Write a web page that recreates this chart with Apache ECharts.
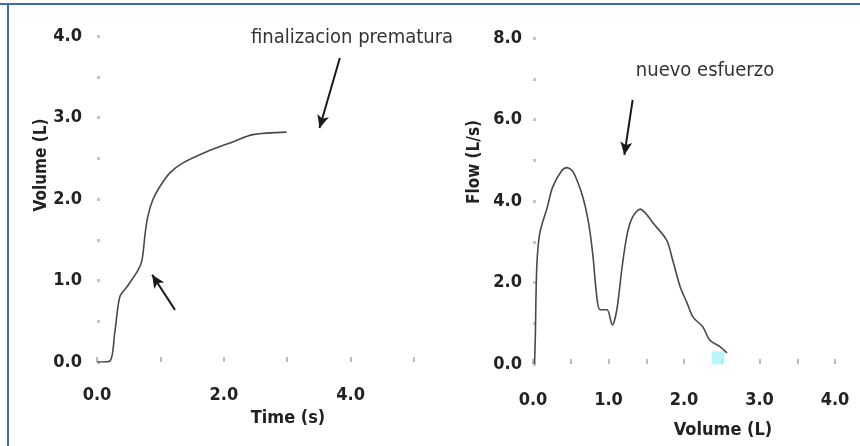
<!DOCTYPE html>
<html>
<head>
<meta charset="utf-8">
<script src="https://cdn.jsdelivr.net/npm/echarts@6/dist/echarts.min.js"></script>
<style>
  html, body { margin: 0; padding: 0; background: #fff; }
  #chart { width: 860px; height: 446px; }
</style>
</head>
<body>
<div id="chart"></div>
<script>
// volume-time curve (left)
var timeS = [0, 0.2, 0.28, 0.36, 0.47, 0.65, 0.71, 0.76, 0.80, 0.88, 0.99, 1.15, 1.35, 1.73, 2.14, 2.46, 2.99];
var volumeL = [0, 0.01, 0.36, 0.80, 0.92, 1.13, 1.25, 1.58, 1.78, 1.99, 2.15, 2.32, 2.44, 2.58, 2.70, 2.79, 2.82];

// flow-volume curve (right)
var loopVolume = [0.02, 0.03, 0.05, 0.09, 0.19, 0.26, 0.38, 0.45, 0.52, 0.58, 0.66, 0.73, 0.79, 0.85, 0.89, 0.98, 1.05, 1.11, 1.18, 1.25, 1.32, 1.42, 1.51, 1.59, 1.77, 1.85, 1.95, 2.04, 2.12, 2.25, 2.34, 2.48, 2.57];
var loopFlow = [0, 0.6, 2.38, 3.21, 3.85, 4.34, 4.74, 4.82, 4.74, 4.52, 4.10, 3.53, 2.72, 1.57, 1.33, 1.33, 0.96, 1.33, 2.38, 3.21, 3.61, 3.80, 3.66, 3.46, 3.04, 2.55, 1.89, 1.50, 1.15, 0.91, 0.59, 0.42, 0.27];

// annotation arrows [from, to] in data units
var arrowEnd = [[3.83, 3.73], [3.51, 2.87]];
var arrowDip = [[1.23, 0.64], [0.87, 1.07]];
var arrowNew = [[1.32, 6.48], [1.21, 5.13]];
var scanMark = [[2.45, 0.15]];

var font = '"Liberation Sans Narrow", "DejaVu Sans Condensed", sans-serif';

function pairs(xs, ys) {
    return xs.map(function (x, i) { return [x, ys[i]]; });
}

var chart = echarts.init(document.getElementById('chart'));

var tickLabel = {
    color: '#222',
    fontFamily: font,
    fontWeight: 'bold',
    fontSize: 18
};

function arrowLine(seg) {
    return {
        silent: true,
        symbol: ['none', 'arrow'],
        symbolSize: [9, 13],
        lineStyle: { color: '#1a1a1a', width: 2, type: 'solid' },
        label: { show: false },
        data: [[{ coord: seg[0] }, { coord: seg[1] }]]
    };
}

var option = {
    animation: false,
    backgroundColor: '#fff',
    grid: [
        { left: 97, top: 36, width: 317, height: 326 },
        { left: 533, top: 38, width: 302, height: 326 }
    ],
    xAxis: [
        {
            gridIndex: 0, type: 'value', min: 0, max: 5, interval: 1,
            axisLine: { show: false },
            axisTick: { show: true, inside: true, length: 5, lineStyle: { color: '#b4bcc6', width: 2 } },
            splitLine: { show: false },
            axisLabel: Object.assign({ margin: 24, formatter: function (v) { return v % 2 === 0 ? v.toFixed(1) : ''; } }, tickLabel)
        },
        {
            gridIndex: 1, type: 'value', min: 0, max: 4, interval: 0.5,
            axisLine: { show: false },
            axisTick: { show: true, inside: true, length: 5, lineStyle: { color: '#b4bcc6', width: 2 } },
            splitLine: { show: false },
            axisLabel: Object.assign({ margin: 27, formatter: function (v) { return v % 1 === 0 ? v.toFixed(1) : ''; } }, tickLabel)
        }
    ],
    yAxis: [
        {
            gridIndex: 0, type: 'value', min: 0, max: 4, interval: 0.5,
            axisLine: { show: false },
            axisTick: { show: true, inside: true, length: 3, lineStyle: { color: '#c0c6ce', width: 3 } },
            splitLine: { show: false },
            axisLabel: Object.assign({ margin: 15, formatter: function (v) { return v % 1 === 0 ? v.toFixed(1) : ''; } }, tickLabel)
        },
        {
            gridIndex: 1, type: 'value', min: 0, max: 8, interval: 1,
            axisLine: { show: false },
            axisTick: { show: true, inside: true, length: 3, lineStyle: { color: '#c0c6ce', width: 3 } },
            splitLine: { show: false },
            axisLabel: Object.assign({ margin: 11, formatter: function (v) { return v % 2 === 0 ? v.toFixed(1) : ''; } }, tickLabel)
        }
    ],
    series: [
        {
            type: 'line', xAxisIndex: 0, yAxisIndex: 0,
            data: pairs(timeS, volumeL),
            smooth: 0.3, showSymbol: false,
            lineStyle: { color: '#454a4f', width: 1.6 },
            markLine: arrowLine(arrowEnd)
        },
        {
            type: 'line', xAxisIndex: 0, yAxisIndex: 0,
            data: [], showSymbol: false,
            markLine: arrowLine(arrowDip)
        },
        {
            type: 'line', xAxisIndex: 1, yAxisIndex: 1,
            data: pairs(loopVolume, loopFlow),
            smooth: 0.3, showSymbol: false,
            lineStyle: { color: '#454a4f', width: 1.6 },
            markLine: arrowLine(arrowNew)
        },
        {
            type: 'scatter', xAxisIndex: 1, yAxisIndex: 1,
            data: scanMark, symbol: 'rect', symbolSize: 13,
            itemStyle: { color: '#a8f4f8' }, silent: true
        }
    ],
    graphic: [
        { type: 'rect', shape: { x: 0, y: 3, width: 860, height: 2 }, style: { fill: '#3b6ea8' } },
        { type: 'rect', shape: { x: 7, y: 3, width: 2, height: 443 }, style: { fill: '#3b6ea8' } },
        {
            type: 'text', x: 42, y: 165, rotation: Math.PI / 2,
            style: { text: 'Volume (L)', fill: '#222', font: 'bold 17px ' + font, textAlign: 'center', textVerticalAlign: 'middle' }
        },
        {
            type: 'text', x: 288, y: 418,
            style: { text: 'Time (s)', fill: '#222', font: 'bold 18px ' + font, textAlign: 'center', textVerticalAlign: 'middle' }
        },
        {
            type: 'text', x: 475, y: 162, rotation: Math.PI / 2,
            style: { text: 'Flow (L/s)', fill: '#222', font: 'bold 17px ' + font, textAlign: 'center', textVerticalAlign: 'middle' }
        },
        {
            type: 'text', x: 723, y: 430,
            style: { text: 'Volume (L)', fill: '#222', font: 'bold 18px ' + font, textAlign: 'center', textVerticalAlign: 'middle' }
        },
        {
            type: 'text', x: 352, y: 38,
            style: { text: 'finalizacion prematura', fill: '#333', font: '20px ' + font, textAlign: 'center', textVerticalAlign: 'middle' }
        },
        {
            type: 'text', x: 705, y: 71,
            style: { text: 'nuevo esfuerzo', fill: '#333', font: '20px ' + font, textAlign: 'center', textVerticalAlign: 'middle' }
        }
    ]
};

chart.setOption(option);
</script>
</body>
</html>
